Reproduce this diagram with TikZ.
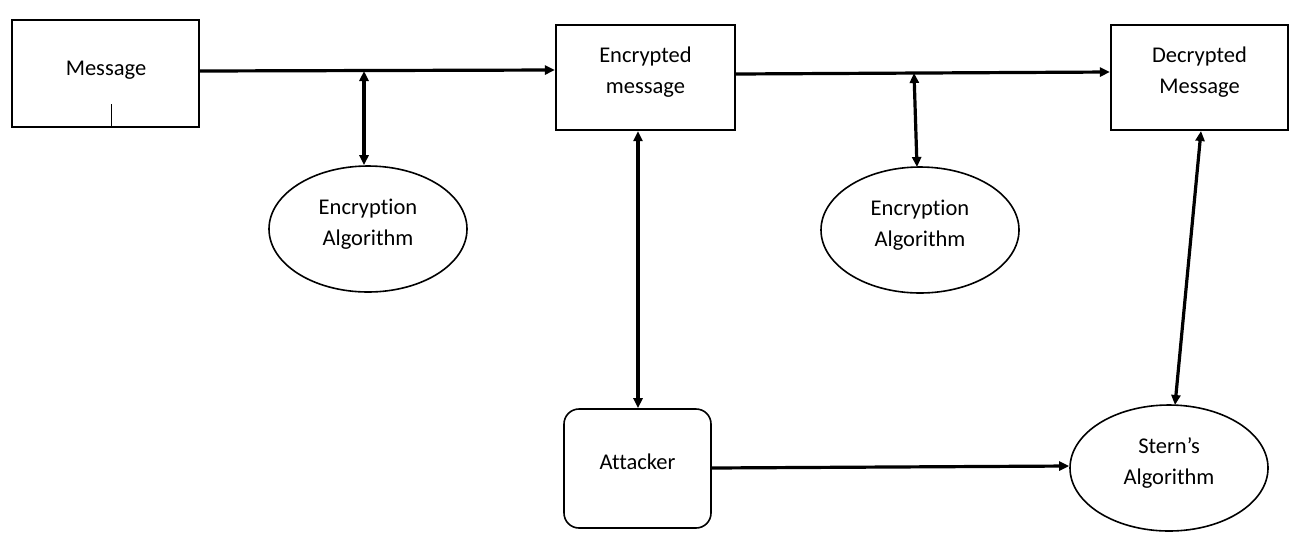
\documentclass[tikz,border=0pt]{standalone}
\usepackage{fontspec}
\setmainfont[Ligatures={NoCommon}]{Carlito}
\usetikzlibrary{shapes.geometric,arrows.meta}
\begin{document}
\begin{tikzpicture}[x=1pt,y=-1pt,
  every node/.style={font=\fontsize{22.5}{31}\selectfont, align=center, inner sep=0pt},
  lbl/.style={yshift=5pt},
  oval/.style={draw, ellipse, line width=1.6pt, minimum width=198pt, minimum height=126pt},
  conn/.style={line width=3.2pt, -{Triangle[length=10pt,width=9pt]}},
  dconn/.style={line width=3.2pt, {Triangle[length=10pt,width=9pt]}-{Triangle[length=10pt,width=9pt]}}]
\useasboundingbox (0,0) rectangle (1308,542);
\node[draw, line width=2.2pt, minimum width=187pt, minimum height=107pt] (msg) at (105.5,73.5) {};
\node[draw, line width=2.2pt, minimum width=179pt, minimum height=105pt] (enc) at (645.5,77.5) {};
\node[draw, line width=2.2pt, minimum width=177pt, minimum height=105pt] (dec) at (1199.5,77.5) {};
\node[oval] (ea1) at (368,229) {};
\node[oval] (ea2) at (920,230) {};
\node[draw, line width=1.6pt, rounded corners=15pt, minimum width=147pt, minimum height=119pt] (att) at (637.5,468.5) {};
\node[oval] (stern) at (1169,468) {};
\node (tmsg) at (106,70) {Message};
\node[lbl] (tenc) at (enc.center) {Encrypted\\message};
\node[lbl] (tdec) at (dec.center) {Decrypted\\Message};
\node[lbl] (tea1) at (ea1.center) {Encryption\\Algorithm};
\node[lbl] (tea2) at (ea2.center) {Encryption\\Algorithm};
\node[yshift=7pt] (tatt) at (att.center) {Attacker};
\node[lbl] (tstern) at (stern.center) {Stern’s\\Algorithm};
\coordinate (tick) at (111,104);
\draw[line width=1pt] (tick) -- (tick |- msg.south);
\coordinate (m1) at (364,71);
\coordinate (m2) at (914,73);
\draw[conn] (msg.east |- 0,71) -- (enc.west |- 0,70);
\draw[conn] (enc.east |- 0,74) -- (dec.west |- 0,72);
\draw[dconn] (m1) -- (m1 |- ea1.north);
\draw[dconn] (m2) -- (917,167) coordinate (m2e);
\draw[dconn] (enc.south -| 638,0) -- (att.north -| 638,0);
\draw[dconn] (1201,131) coordinate (d1) -- (1175,405) coordinate (s1);
\draw[conn] (att.east |- 0,468) -- (stern.west |- 0,466);
\end{tikzpicture}
\end{document}
